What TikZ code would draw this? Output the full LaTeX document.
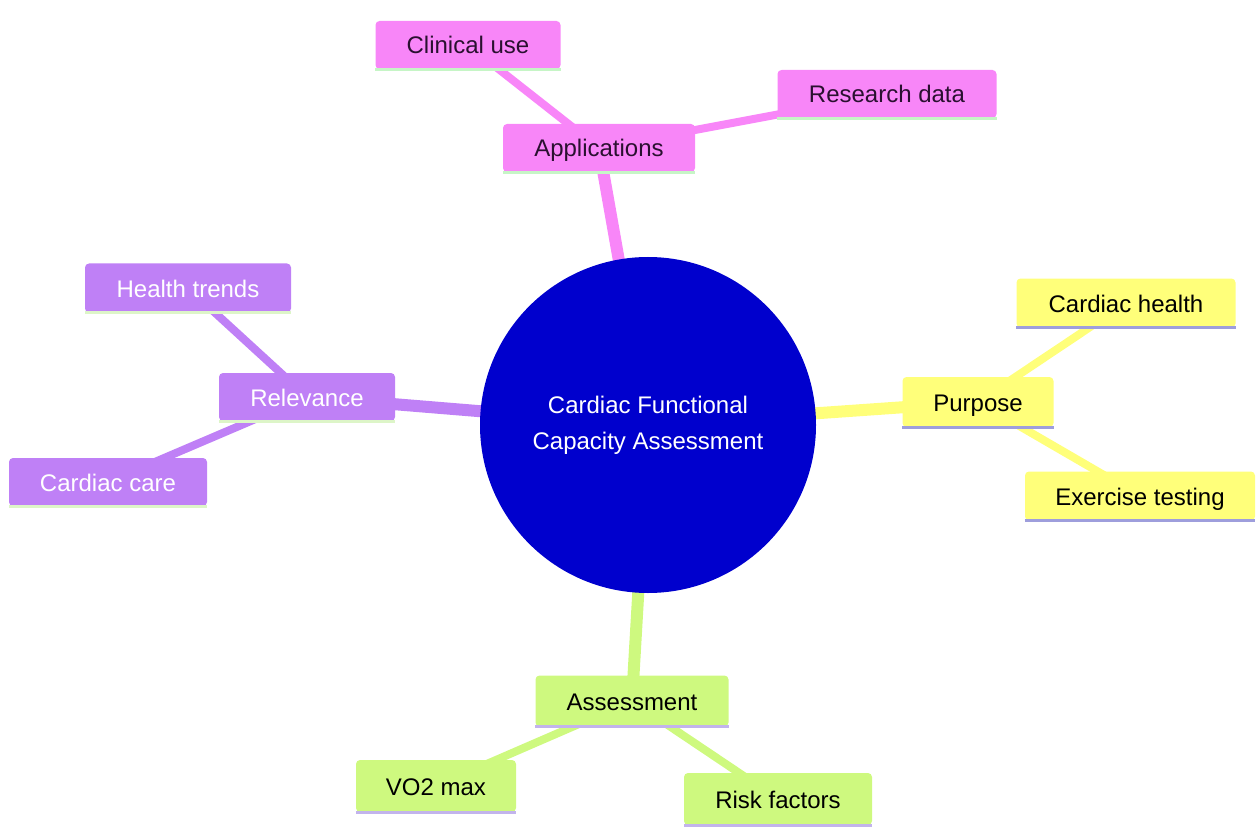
\documentclass[tikz,border=0pt]{standalone}
\usepackage{fontspec}
\setmainfont{Liberation Sans}
\pgfdeclarelayer{bg}
\pgfsetlayers{bg,main}
\begin{document}
\begin{tikzpicture}[x=1pt,y=-1pt]
\definecolor{cblue}{HTML}{0000CD}
\definecolor{cpink}{HTML}{F886F8}
\definecolor{cpurple}{HTML}{BF80F6}
\definecolor{cyellow}{HTML}{FFFF7A}
\definecolor{cgreen}{HTML}{CEF97F}
\definecolor{lpink}{HTML}{C6F5C6}
\definecolor{lpurple}{HTML}{DDF5C8}
\definecolor{lyellow}{HTML}{9E9EDC}
\definecolor{lgreen}{HTML}{C2B4EC}
\definecolor{tdark}{HTML}{2A1030}
\tikzset{
  box/.style={rectangle, rounded corners=4pt, inner sep=0pt, font=\fontsize{24}{28}\selectfont, text height=20pt, text depth=2pt},
  pinkbox/.style={box, fill=cpink, text=tdark},
  purplebox/.style={box, fill=cpurple, text=white},
  yellowbox/.style={box, fill=cyellow, text=black},
  greenbox/.style={box, fill=cgreen, text=black},
  trunk/.style={line width=12pt},
  twig/.style={line width=8pt},
  underline/.style={line width=3pt},
}
\useasboundingbox (0,0) rectangle (1256,829);

% nodes
\node[circle, fill=cblue, minimum size=336pt, inner sep=0pt, text=white, align=center,
      font=\fontsize{24}{36}\selectfont] (root) at (648,425) {Cardiac Functional\\Capacity Assessment};

\node[pinkbox, minimum width=192pt, minimum height=48pt] (app) at (599,148) {Applications};
\node[pinkbox, minimum width=185pt, minimum height=48pt] (clin) at (468,45) {Clinical use};
\node[pinkbox, minimum width=219pt, minimum height=48pt] (res) at (887,94) {Research data};

\node[purplebox, minimum width=176pt, minimum height=48pt] (rel) at (307,397) {Relevance};
\node[purplebox, minimum width=206pt, minimum height=49pt] (trend) at (188,288) {Health trends};
\node[purplebox, minimum width=198pt, minimum height=48pt] (care) at (108,482) {Cardiac care};

\node[yellowbox, minimum width=151pt, minimum height=50pt] (purp) at (978,402) {Purpose};
\node[yellowbox, minimum width=219pt, minimum height=49pt] (chealth) at (1126,303) {Cardiac health};
\node[yellowbox, minimum width=230pt, minimum height=49pt] (ex) at (1140,496) {Exercise testing};

\node[greenbox, minimum width=193pt, minimum height=51pt] (assess) at (632,701) {Assessment};
\node[greenbox, minimum width=160pt, minimum height=52pt] (vo2) at (436,786) {VO2 max};
\node[greenbox, minimum width=188pt, minimum height=52pt] (risk) at (778,799) {Risk factors};

% connectors (behind nodes)
\begin{pgfonlayer}{bg}
\draw[trunk, cpink] (root.center) -- (app.center);
\draw[trunk, cpurple] (root.center) -- (rel.center);
\draw[trunk, cyellow] (root.center) -- (purp.center);
\draw[trunk, cgreen] (root.center) -- (assess.center);
\draw[twig, cpink] (app.center) -- (clin.center);
\draw[twig, cpink] (app.center) -- (res.center);
\draw[twig, cpurple] (rel.center) -- (trend.center);
\draw[twig, cpurple] (rel.center) -- (care.center);
\draw[twig, cyellow] (purp.center) -- (chealth.center);
\draw[twig, cyellow] (purp.center) -- (ex.center);
\draw[twig, cgreen] (assess.center) -- (vo2.center);
\draw[twig, cgreen] (assess.center) -- (risk.center);
\end{pgfonlayer}

% bottom lines
\foreach \n/\c in {app/lpink, clin/lpink, res/lpink, rel/lpurple, trend/lpurple, care/lpurple,
                   purp/lyellow, chealth/lyellow, ex/lyellow, assess/lgreen, vo2/lgreen, risk/lgreen}
  \draw[underline, \c] (\n.south west) -- (\n.south east);
\end{tikzpicture}
\end{document}
